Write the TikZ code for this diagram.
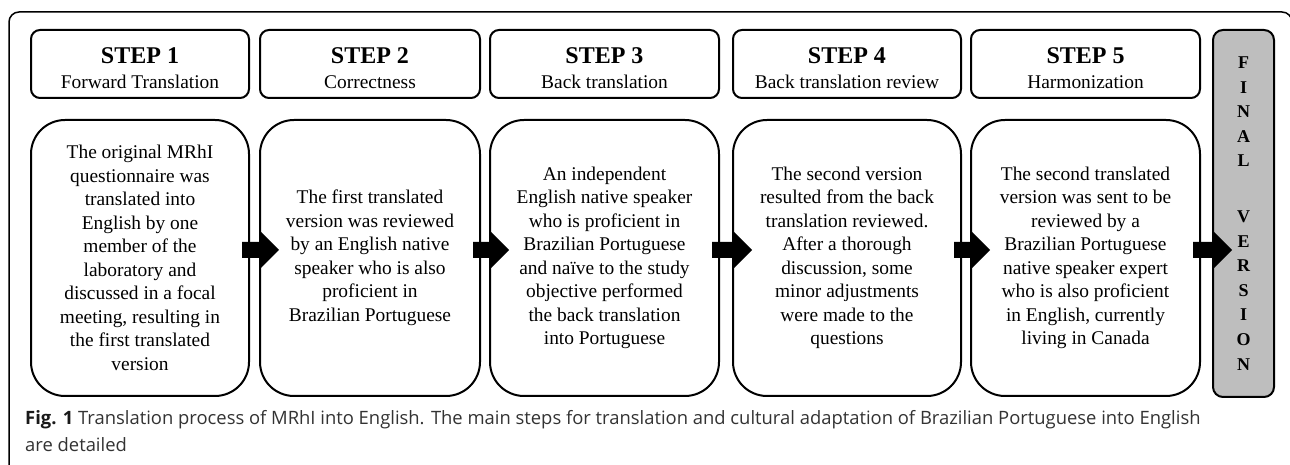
\documentclass[tikz,border=0pt]{standalone}
\usepackage{fontspec}
\setmainfont{Liberation Serif}
\newfontfamily\capfont{Open Sans}
\usetikzlibrary{calc}
\definecolor{finalgray}{HTML}{BEBEBE}
\definecolor{captxt}{HTML}{333333}
\newcommand\blockarrow[2]{%
  \path (#1.east) coordinate (ba-s) (#1.east -| #2.west) coordinate (ba-e);
  \fill[arrowfill] ($(ba-s)+(-8,0)$) -- ($(ba-e)+(2,0)$) -- ($(ba-e)+(2,-10)$)
    -- ($(ba-e)+(20,8)$) -- ($(ba-e)+(2,26)$) -- ($(ba-e)+(2,16)$)
    -- ($(ba-s)+(-8,16)$) -- cycle;}
\newcommand\steptitle[1]{{\fontsize{24}{25}\selectfont\bfseries\rule{0pt}{24pt}#1}}
\begin{document}
\begin{tikzpicture}[x=1pt,y=1pt,
  headbox/.style={draw=black,line width=2pt,rounded corners=9pt,minimum height=68pt,
    align=center,inner sep=0pt,font=\fontsize{19.4}{25}\selectfont},
  bodybox/.style={draw=black,line width=2pt,rounded corners=34pt,minimum height=276pt,
    align=center,inner sep=0pt,font=\fontsize{19.4}{23.5}\selectfont},
  finalbox/.style={draw=black,line width=2pt,fill=finalgray,rounded corners=10pt,
    minimum width=61pt,minimum height=367pt,align=center,inner sep=0pt,
    font=\fontsize{18}{24.6}\selectfont\bfseries},
  arrowfill/.style={fill=black},
  captext/.style={anchor=base west,inner sep=0pt,text=captxt,font=\capfont\fontsize{18.4}{22}\selectfont}
]
\useasboundingbox (0,0) rectangle (1290,465);
\fill[white] (0,0) rectangle (1290,465);
\begin{scope}
  \clip (0,0) rectangle (1290,465);
  \draw[line width=1.5pt,rounded corners=10pt] (9,-30) rectangle (1292,453);
\end{scope}

% headers
\node[headbox,minimum width=218pt] (h1) at (140,401)
  {\steptitle{STEP 1}\\Forward Translation};
\node[headbox,minimum width=220pt] (h2) at (370,401)
  {\steptitle{STEP 2}\\Correctness};
\node[headbox,minimum width=229pt] (h3) at (604.5,401)
  {\steptitle{STEP 3}\\Back translation};
\node[headbox,minimum width=228pt] (h4) at (847,401)
  {\steptitle{STEP 4}\\Back translation review};
\node[headbox,minimum width=229pt] (h5) at (1085.5,401)
  {\steptitle{STEP 5}\\Harmonization};

% bodies
\node[bodybox,minimum width=218pt] (c1) at (140,207)
  {The original MRhI\\questionnaire was\\translated into\\English by one\\member of the\\laboratory and\\discussed in a focal\\meeting, resulting in\\the first translated\\version};
\node[bodybox,minimum width=220pt] (c2) at (370,207)
  {The first translated\\version was reviewed\\by an English native\\speaker who is also\\proficient in\\Brazilian Portuguese};
\node[bodybox,minimum width=229pt] (c3) at (604.5,207)
  {An independent\\English native speaker\\who is proficient in\\Brazilian Portuguese\\and naïve to the study\\objective performed\\the back translation\\into Portuguese};
\node[bodybox,minimum width=228pt] (c4) at (847,207)
  {The second version\\resulted from the back\\translation reviewed.\\After a thorough\\discussion, some\\minor adjustments\\were made to the\\questions};
\node[bodybox,minimum width=229pt] (c5) at (1085.5,207)
  {The second translated\\version was sent to be\\reviewed by a\\Brazilian Portuguese\\native speaker expert\\who is also proficient\\in English, currently\\living in Canada};

\node[finalbox] (fin) at (1243.5,251.5)
  {F\\I\\N\\A\\L\\[31pt]V\\E\\R\\S\\I\\O\\N};

% arrows
\blockarrow{c1}{c2}
\blockarrow{c2}{c3}
\blockarrow{c3}{c4}
\blockarrow{c4}{c5}
\blockarrow{c5}{fin}

% caption
\node[captext] (cap1) at (25,40) {{\color{black!90}\bfseries Fig. 1} Translation process of MRhI into English. The main steps for translation and cultural adaptation of Brazilian Portuguese into English};
\node[captext] (cap2) at (25,13) {are detailed};
\end{tikzpicture}
\end{document}
